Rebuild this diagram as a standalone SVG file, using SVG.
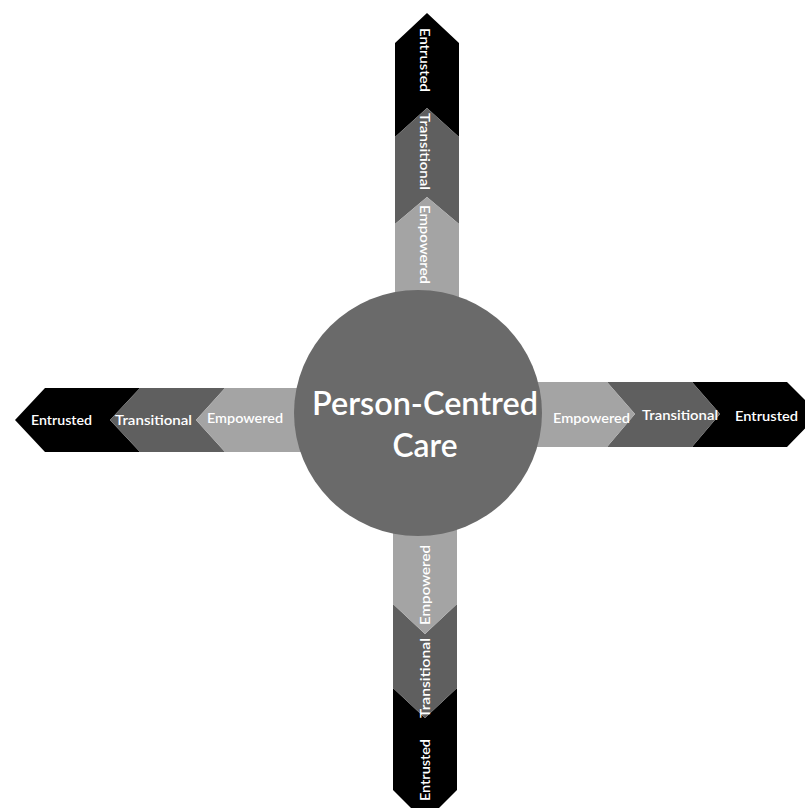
<svg xmlns="http://www.w3.org/2000/svg" width="805" height="808" viewBox="0 0 805 808">
<style>
.emp{fill:#a4a4a4}
.tra{fill:#5f5f5f}
.ent{fill:#000000}
.lbl{font-family:Lato,"Open Sans","Liberation Sans",sans-serif;font-size:14px;font-weight:600;fill:#ffffff}
.hub{font-family:Lato,"Open Sans","Liberation Sans",sans-serif;font-size:33px;font-weight:600;fill:#ffffff;text-anchor:middle}
</style>
<rect width="805" height="808" fill="#ffffff"/>
<g id="connectors"></g>
<g id="top-arm">
  <g id="top-entrusted">
    <polygon class="ent" points="427,13 459,43 459,137 427,108 395,137 395,43"/>
    <text class="lbl" transform="translate(420,28) rotate(90)" textLength="64" lengthAdjust="spacingAndGlyphs">Entrusted</text>
  </g>
  <g id="top-transitional">
    <polygon class="tra" points="427,108 459,137 459,224 427,197 395,224 395,137"/>
    <text class="lbl" transform="translate(420,113) rotate(90)" textLength="77" lengthAdjust="spacingAndGlyphs">Transitional</text>
  </g>
  <g id="top-empowered">
    <polygon class="emp" points="427,197 459,224 459,320 395,320 395,224"/>
    <text class="lbl" transform="translate(420,205) rotate(90)" textLength="79" lengthAdjust="spacingAndGlyphs">Empowered</text>
  </g>
</g>
<g id="left-arm">
  <g id="left-entrusted">
    <polygon class="ent" points="15,420 45,388 140,388 110,420 140,452 45,452"/>
    <text class="lbl" x="31" y="425" textLength="61" lengthAdjust="spacingAndGlyphs">Entrusted</text>
  </g>
  <g id="left-transitional">
    <polygon class="tra" points="110,420 140,388 225,388 196,420 225,452 140,452"/>
    <text class="lbl" x="115" y="425" textLength="77" lengthAdjust="spacingAndGlyphs">Transitional</text>
  </g>
  <g id="left-empowered">
    <polygon class="emp" points="196,420 225,388 320,388 320,452 225,452"/>
    <text class="lbl" x="207" y="423" textLength="76" lengthAdjust="spacingAndGlyphs">Empowered</text>
  </g>
</g>
<g id="right-arm">
  <g id="right-entrusted">
    <polygon class="ent" points="692,382 787,382 819,414 787,447 692,447 720,414"/>
    <text class="lbl" x="735" y="421" textLength="63" lengthAdjust="spacingAndGlyphs">Entrusted</text>
  </g>
  <g id="right-transitional">
    <polygon class="tra" points="607,382 692,382 720,414 692,447 607,447 635,414"/>
    <text class="lbl" x="642" y="420" textLength="76" lengthAdjust="spacingAndGlyphs">Transitional</text>
  </g>
  <g id="right-empowered">
    <polygon class="emp" points="520,382 607,382 635,414 607,447 520,447"/>
    <text class="lbl" x="553" y="423" textLength="77" lengthAdjust="spacingAndGlyphs">Empowered</text>
  </g>
</g>
<g id="bottom-arm">
  <g id="bottom-entrusted">
    <polygon class="ent" points="393,688 425,718 457,688 457,790 425,822 393,790"/>
    <text class="lbl" transform="translate(430,801) rotate(-90)" textLength="62" lengthAdjust="spacingAndGlyphs">Entrusted</text>
  </g>
  <g id="bottom-transitional">
    <polygon class="tra" points="393,604 425,634 457,604 457,688 425,718 393,688"/>
    <text class="lbl" transform="translate(430,718) rotate(-90)" textLength="80" lengthAdjust="spacingAndGlyphs">Transitional</text>
  </g>
  <g id="bottom-empowered">
    <polygon class="emp" points="393,510 457,510 457,604 425,634 393,604"/>
    <text class="lbl" transform="translate(430,625) rotate(-90)" textLength="80" lengthAdjust="spacingAndGlyphs">Empowered</text>
  </g>
</g>
<g id="hub">
  <ellipse cx="418" cy="413" rx="124" ry="123" fill="#6a6a6a"/>
  <text class="hub" x="425" y="415" textLength="226" lengthAdjust="spacingAndGlyphs">Person-Centred</text>
  <text class="hub" x="425" y="457" textLength="65" lengthAdjust="spacingAndGlyphs">Care</text>
</g>
</svg>
